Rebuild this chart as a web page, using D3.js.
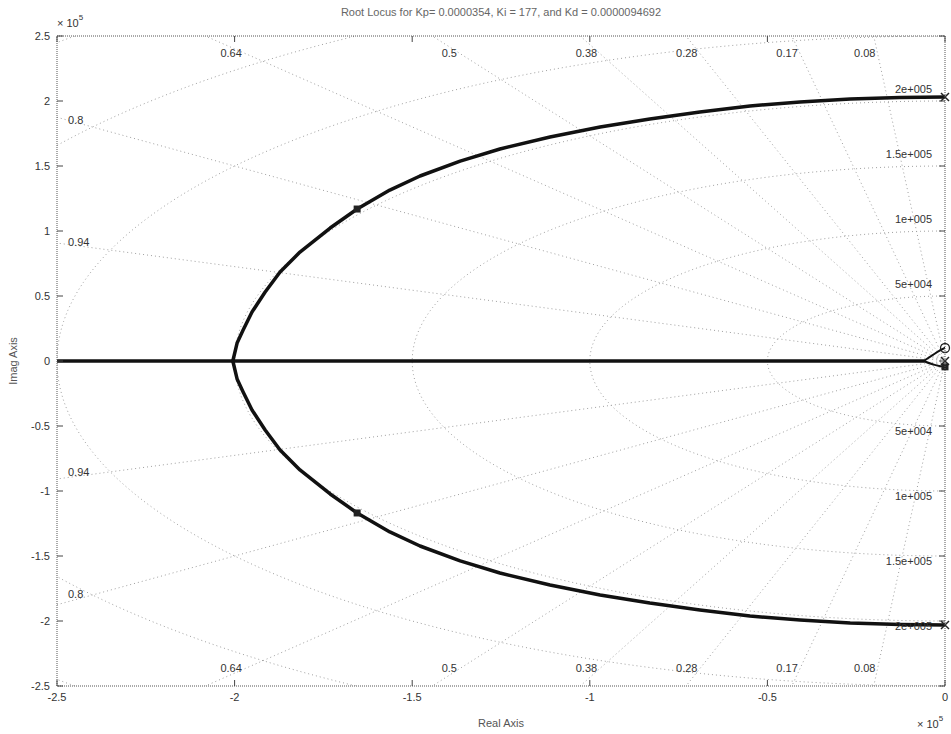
<!DOCTYPE html>
<html>
<head>
<meta charset="utf-8">
<script src="https://cdn.jsdelivr.net/npm/d3@7"></script>
<style>
  html, body { margin: 0; padding: 0; background: #fff; }
  svg { display: block; }
  text { font-family: "Liberation Sans", Arial, sans-serif; }
</style>
</head>
<body>
<svg id="chart" width="951" height="734"></svg>
<script>
// Axis ticks (units of 1e5)
const xTicks = [-2.5, -2, -1.5, -1, -0.5, 0];
const yTicks = [2.5, 2, 1.5, 1, 0.5, 0, -0.5, -1, -1.5, -2, -2.5];

// s-plane grid: damping ratios and natural frequencies (x1e5 rad/s)
const zetas = [0.08, 0.17, 0.28, 0.38, 0.5, 0.64, 0.8, 0.94];
const zetaLabels = ["0.08", "0.17", "0.28", "0.38", "0.5", "0.64", "0.8", "0.94"];
const wnRadii = [0.5, 1, 1.5, 2, 2.5, 3, 3.5];
const wnLabelRadii = [0.5, 1, 1.5, 2];
const wnLabels = ["5e+004", "1e+005", "1.5e+005", "2e+005"];

// Complex-pair branch, upper half-plane (re, im), from the pole to the breakaway point
const branchRe = [0, -0.127, -0.267, -0.408, -0.549, -0.690, -0.831, -0.971, -1.112, -1.253, -1.365,
                  -1.478, -1.563, -1.655, -1.731, -1.816, -1.872, -1.914, -1.951, -1.976, -1.993, -2.005];
const branchIm = [2.031, 2.027, 2.015, 1.992, 1.962, 1.915, 1.862, 1.800, 1.723, 1.631, 1.538,
                  1.423, 1.315, 1.169, 1.023, 0.838, 0.685, 0.531, 0.377, 0.238, 0.138, 0];

// Real-axis branches
const realRe = [-2.5, -2.005, -0.06];
const realIm = [0, 0, 0];

// Small branches near the origin
const nearUpRe = [-0.06, -0.035, -0.015, 0];
const nearUpIm = [0, 0.045, 0.08, 0.1];
const nearLoRe = [-0.06, -0.035, -0.012, 0];
const nearLoIm = [0, -0.025, -0.04, -0.045];

// Open-loop poles, zeros and the selected closed-loop roots
const polesRe = [0, 0, 0];
const polesIm = [2.031, -2.031, 0.0];
const zerosRe = [0];
const zerosIm = [0.1];
const selRe = [-1.655, -1.655, 0];
const selIm = [1.169, -1.169, -0.045];

const svg = d3.select("#chart");
const mLeft = 57, mRight = 945, mTop = 36, mBottom = 686;

const x = d3.scaleLinear().domain([-2.5, 0]).range([mLeft, mRight]);
const y = d3.scaleLinear().domain([-2.5, 2.5]).range([mBottom, mTop]);

svg.append("defs").append("clipPath").attr("id", "plotClip")
  .append("rect").attr("x", mLeft).attr("y", mTop)
  .attr("width", mRight - mLeft).attr("height", mBottom - mTop);

const plot = svg.append("g").attr("clip-path", "url(#plotClip)");
const line = d3.line().x(d => x(d[0])).y(d => y(d[1]));
const smooth = d3.line().x(d => x(d[0])).y(d => y(d[1])).curve(d3.curveMonotoneY);

// Grid: constant-damping rays
const gridStyle = g => g.attr("fill", "none").attr("stroke", "#a0a0a0")
  .attr("stroke-width", 1).attr("stroke-dasharray", "1,3");
zetas.forEach(z => {
  const w = Math.sqrt(1 - z * z);
  [1, -1].forEach(s => {
    plot.append("path").call(gridStyle)
      .attr("d", line([[0, 0], [-z * 6, s * w * 6]]));
  });
});

// Grid: constant natural-frequency circles
wnRadii.forEach(r => {
  const pts = d3.range(0, 181).map(i => {
    const a = Math.PI / 2 + (i / 180) * Math.PI;
    return [r * Math.cos(a), r * Math.sin(a)];
  });
  plot.append("path").call(gridStyle).attr("d", line(pts));
});

// Grid labels: damping ratios near the plot edge
const gl = svg.append("g").attr("font-size", 11).attr("fill", "#333");
zetas.forEach((z, i) => {
  const slope = Math.sqrt(1 - z * z) / z;
  const yEdge = 2.37;
  const xAtTop = -yEdge / slope;
  [1, -1].forEach(s => {
    if (xAtTop > -2.43) {
      gl.append("text").attr("x", x(xAtTop) - 2).attr("y", y(s * (s > 0 ? yEdge : 2.36)))
        .attr("dy", "0.35em").attr("text-anchor", "end").text(zetaLabels[i]);
    } else {
      const yv = 2.43 * slope;
      gl.append("text").attr("x", mLeft + 11).attr("y", y(s * yv) - 4)
        .attr("dy", "0.35em").attr("text-anchor", "start").text(zetaLabels[i]);
    }
  });
});

// Grid labels: natural frequencies along the right edge
wnLabelRadii.forEach((r, i) => {
  gl.append("text").attr("x", mRight - 13).attr("y", y(r) - 12)
    .attr("dy", "0.35em").attr("text-anchor", "end").text(wnLabels[i]);
  gl.append("text").attr("x", mRight - 13).attr("y", y(-r) + 5)
    .attr("dy", "0.35em").attr("text-anchor", "end").text(wnLabels[i]);
});

// Root locus branches
const locus = g => g.attr("fill", "none").attr("stroke", "#111")
  .attr("stroke-width", 3.5).attr("stroke-linejoin", "round").attr("stroke-linecap", "round");
const upper = branchRe.map((v, i) => [v, branchIm[i]]);
const lower = branchRe.map((v, i) => [v, -branchIm[i]]);
plot.append("path").call(locus).attr("d", line(upper));
plot.append("path").call(locus).attr("d", line(lower));
plot.append("path").call(locus).attr("d", line(realRe.map((v, i) => [v, realIm[i]])));
plot.append("path").call(locus).attr("stroke-width", 2)
  .attr("d", smooth(nearUpRe.map((v, i) => [v, nearUpIm[i]])));
plot.append("path").call(locus).attr("stroke-width", 2)
  .attr("d", smooth(nearLoRe.map((v, i) => [v, nearLoIm[i]])));

// Markers
const mk = svg.append("g");
polesRe.forEach((v, i) => {
  const px = x(v), py = y(polesIm[i]), s = 4;
  mk.append("path").attr("stroke", "#222").attr("stroke-width", 1.5).attr("fill", "none")
    .attr("d", `M${px - s},${py - s}L${px + s},${py + s}M${px - s},${py + s}L${px + s},${py - s}`);
});
zerosRe.forEach((v, i) => {
  mk.append("circle").attr("cx", x(v)).attr("cy", y(zerosIm[i])).attr("r", 4.5)
    .attr("fill", "none").attr("stroke", "#222").attr("stroke-width", 1.3);
});
selRe.forEach((v, i) => {
  mk.append("rect").attr("x", x(v) - 3.5).attr("y", y(selIm[i]) - 3.5)
    .attr("width", 7).attr("height", 7).attr("fill", "#222");
});

// Axes box
const box = svg.append("g").attr("fill", "none").attr("stroke", "#555")
  .attr("stroke-width", 1).attr("stroke-dasharray", "1,1");
box.append("rect").attr("x", mLeft).attr("y", mTop)
  .attr("width", mRight - mLeft).attr("height", mBottom - mTop);

// Tick marks (inward, on all four sides)
const tk = svg.append("g").attr("stroke", "#444").attr("stroke-width", 1);
xTicks.forEach(t => {
  tk.append("line").attr("x1", x(t)).attr("x2", x(t)).attr("y1", mBottom).attr("y2", mBottom - 6);
  tk.append("line").attr("x1", x(t)).attr("x2", x(t)).attr("y1", mTop).attr("y2", mTop + 6);
});
yTicks.forEach(t => {
  tk.append("line").attr("x1", mLeft).attr("x2", mLeft + 6).attr("y1", y(t)).attr("y2", y(t));
  tk.append("line").attr("x1", mRight).attr("x2", mRight - 6).attr("y1", y(t)).attr("y2", y(t));
});

// Tick labels
const lab = svg.append("g").attr("font-size", 11).attr("fill", "#333");
const fmt = v => (v === 0 ? "0" : String(v));
xTicks.forEach(t => {
  lab.append("text").attr("x", x(t)).attr("y", mBottom + 15).attr("text-anchor", "middle").text(fmt(t));
});
yTicks.forEach(t => {
  lab.append("text").attr("x", mLeft - 7).attr("y", y(t)).attr("dy", "0.35em")
    .attr("text-anchor", "end").text(fmt(t));
});

// Exponent labels
const e1 = lab.append("text").attr("x", mLeft).attr("y", 27);
e1.append("tspan").text("\u00d7 10");
e1.append("tspan").attr("font-size", 8).attr("dy", -7).text("5");
const e2 = lab.append("text").attr("x", mRight - 28).attr("y", 728);
e2.append("tspan").text("\u00d7 10");
e2.append("tspan").attr("font-size", 8).attr("dy", -7).text("5");

// Titles
svg.append("text").attr("x", (mLeft + mRight) / 2).attr("y", 16).attr("text-anchor", "middle")
  .attr("font-size", 11).attr("fill", "#666")
  .text("Root Locus for Kp= 0.0000354, Ki = 177, and Kd = 0.0000094692");
svg.append("text").attr("x", (mLeft + mRight) / 2).attr("y", 727).attr("text-anchor", "middle")
  .attr("font-size", 11).attr("fill", "#555").text("Real Axis");
svg.append("text").attr("transform", `translate(17,${(mTop + mBottom) / 2}) rotate(-90)`)
  .attr("text-anchor", "middle").attr("font-size", 11).attr("fill", "#555").text("Imag Axis");
</script>
</body>
</html>
